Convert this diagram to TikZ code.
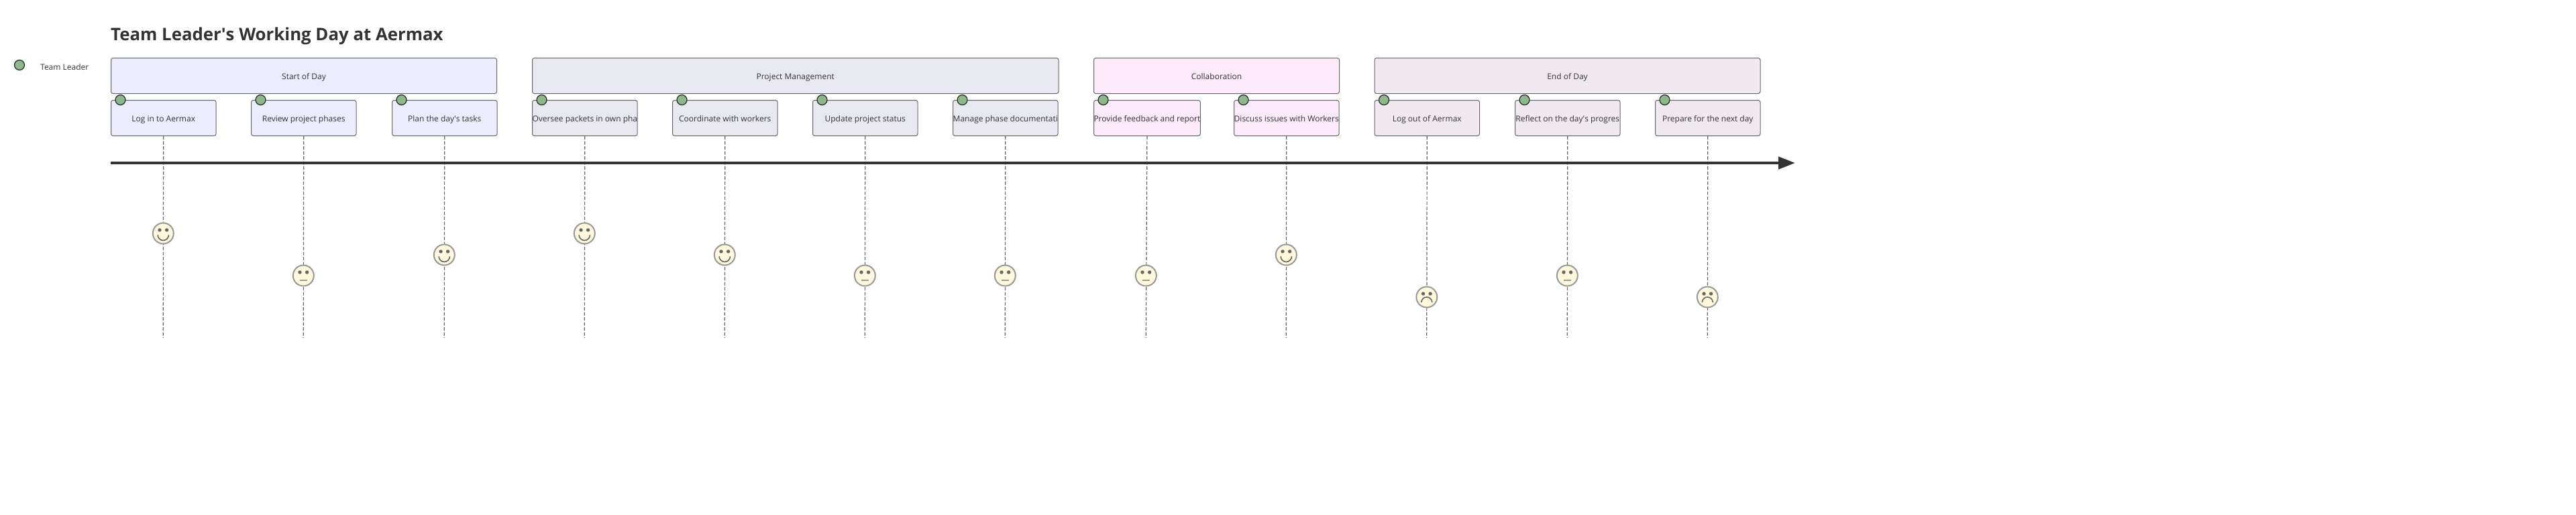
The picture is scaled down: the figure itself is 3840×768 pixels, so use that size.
\documentclass[tikz,border=0pt]{standalone}
\usepackage{fontspec}
\setmainfont{Open Sans}
\usetikzlibrary{arrows.meta}
\definecolor{inkgray}{HTML}{333333}
\definecolor{boxgray}{HTML}{666666}
\definecolor{facegray}{HTML}{999999}
\definecolor{facefill}{HTML}{FFF8DC}
\definecolor{dotgreen}{HTML}{8DB88B}
\definecolor{startfill}{HTML}{ECECFF}
\definecolor{projectfill}{HTML}{E8E8F0}
\definecolor{collabfill}{HTML}{FDEAFB}
\definecolor{endfill}{HTML}{F0E9F0}
\tikzset{
section box/.style = { rectangle, draw = boxgray, line width = 1pt, rounded corners = 3pt, anchor = north west, inner sep = 0pt, minimum height = 53pt, text height = 11pt, text depth = 0pt, text = inkgray, font = \fontsize{12}{15}\selectfont },
task box/.style = { rectangle, draw = boxgray, line width = 1pt, rounded corners = 3pt, anchor = north west, inner sep = 0pt, minimum width = 156.5pt, minimum height = 53pt, text height = 11pt, text depth = 0pt, text = inkgray, font = \fontsize{12}{15}\selectfont },
actor dot/.style = { circle, draw = black!85, fill = dotgreen, line width = 1.2pt, inner sep = 0pt, minimum size = 15pt },
guide/.style = { draw = boxgray, line width = 1.2pt, dash pattern = on 5pt off 2.5pt },
}
\tikzset{
pics/happy face/.style = {
        code = {
        \node[circle, draw = facegray, fill = facefill, line width = 2pt, inner sep = 0pt, minimum size = 31pt] at (0, 0) {};
        \path[fill = boxgray] (-5.3, -5) circle (2.7pt) (5.3, -5) circle (2.7pt);
        \draw[boxgray, line width = 1.6pt] (-8.2, 2.3) arc[start angle = 180, end angle = 360, radius = 8.2pt];
        }
    },
pics/flat face/.style = {
        code = {
        \node[circle, draw = facegray, fill = facefill, line width = 2pt, inner sep = 0pt, minimum size = 31pt] at (0, 0) {};
        \path[fill = boxgray] (-5.3, -5) circle (2.7pt) (5.3, -5) circle (2.7pt);
        \draw[facegray, line width = 1.2pt] (-5.3, 7) -- (5.3, 7);
        }
    },
pics/sad face/.style = {
        code = {
        \node[circle, draw = facegray, fill = facefill, line width = 2pt, inner sep = 0pt, minimum size = 31pt] at (0, 0) {};
        \path[fill = boxgray] (-5.3, -5) circle (2.7pt) (5.3, -5) circle (2.7pt);
        \draw[boxgray, line width = 1.6pt] (-8, 8) arc[start angle = 180, end angle = 0, radius = 8pt];
        }
    }
}
\begin{document}
\begin{tikzpicture}[x=1pt, y=-1pt]
      \useasboundingbox (0,0) rectangle (3840,768);
      \node[anchor=base west, inkgray, inner sep=0pt, font=\fontsize{25.8}{30}\selectfont\bfseries] (title) at (165,60) {Team Leader\textquotesingle s Working Day at Aermax};
      \node[actor dot] (legend) at (29,97) {};
      \node[anchor=base west, inkgray, inner sep=0pt, font=\fontsize{12}{15}\selectfont] (legendtext) at (60,104) {Team Leader};
      % sections
      \node[section box, fill=startfill, minimum width=575pt] (start) at (165,86) {Start of Day};
      \node[section box, fill=projectfill, minimum width=784.5pt] (project) at (793,86) {Project Management};
      \node[section box, fill=collabfill, minimum width=366pt] (collab) at (1630,86) {Collaboration};
      \node[section box, fill=endfill, minimum width=575pt] (end) at (2048.5,86) {End of Day};
      % time axis and guides go under the tasks
      \coordinate (axis0) at (165,243);
      \coordinate (axis1) at (2676,243);
      \foreach \name/\xx/\tint/\txt in {
        t1/165/startfill/Log in to Aermax,
        t2/374/startfill/Review project phases,
        t3/584/startfill/Plan the day\textquotesingle s tasks,
        t4/793/projectfill/Oversee packets in own pha,
        t5/1002/projectfill/Coordinate with workers,
        t6/1211/projectfill/Update project status,
        t7/1420/projectfill/Manage phase documentati,
        t8/1630/collabfill/Provide feedback and report,
        t9/1839/collabfill/Discuss issues with Workers,
        t10/2048.5/endfill/Log out of Aermax,
        t11/2258/endfill/Reflect on the day\textquotesingle s progres,
        t12/2467/endfill/Prepare for the next day} {
        \node[task box, fill=\tint] (\name) at (\xx,149) {\txt};
        \node[actor dot] (\name dot) at ([xshift=14.5pt]\name.north west) {};
        \coordinate (\name end) at (\xx+78.25,504);
        \draw[guide] (\name.south) -- (\name end);
      }
      \draw[-{Stealth[inset=0pt, length=25pt, width=18pt]}, draw=inkgray, fill=inkgray, line width=4.5pt] (axis0) -- (axis1);
      % faces
      \pic at (243.3,348) {happy face};
      \pic at (452.3,411) {flat face};
      \pic at (662.3,380) {happy face};
      \pic at (871.3,348) {happy face};
      \pic at (1080.3,380) {happy face};
      \pic at (1289.3,411) {flat face};
      \pic at (1498.3,411) {flat face};
      \pic at (1708.3,411) {flat face};
      \pic at (1917.3,380) {happy face};
      \pic at (2126.8,443) {sad face};
      \pic at (2336.3,411) {flat face};
      \pic at (2545.3,443) {sad face};
\end{tikzpicture}
\end{document}
